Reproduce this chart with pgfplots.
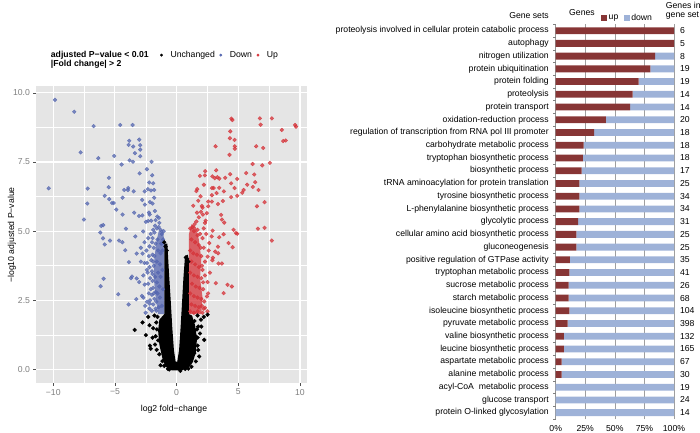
\documentclass[border=0pt]{standalone}
\usepackage{fontspec}
\setmainfont{Liberation Sans}
\usepackage{pgfplots}
\pgfplotsset{compat=1.18}
\definecolor{ggbg}{RGB}{229,229,229}
\definecolor{tlc}{RGB}{127,127,127}
\definecolor{tickc}{RGB}{80,80,80}
\definecolor{bluec}{RGB}{84,102,176}
\definecolor{redc}{RGB}{214,50,56}
\definecolor{upc}{RGB}{135,53,53}
\definecolor{downc}{RGB}{158,178,216}
\newcommand\fs{\fontsize{8.7}{10}\selectfont}
\begin{document}
\begin{tikzpicture}
\useasboundingbox (0,0) rectangle (700bp,433bp);

% ---------- volcano plot ----------
\begin{axis}[
  at={(36bp,50bp)}, anchor=south west, scale only axis,
  width=271bp, height=297bp,
  xmin=-11.4, xmax=10.57, ymin=-0.49, ymax=10.25,
  axis background/.style={fill=ggbg},
  axis line style={draw=none},
  xtick={-10,-5,0,5,10}, xticklabels={−10,−5,0,5,10},
  ytick={0,2.5,5,7.5,10}, yticklabels={0.0,2.5,5.0,7.5,10.0},
  minor xtick={-7.5,-2.5,2.5,7.5}, minor ytick={1.25,3.75,6.25,8.75},
  grid=both,
  major grid style={white, line width=1.1bp},
  minor grid style={white, line width=0.5bp},
  tick align=outside, major tick length=2.5bp, minor tick length=0pt,
  tick style={color=tickc, line width=0.6bp},
  xtick pos=lower, ytick pos=left,
  ticklabel style={font=\fs, text=tlc},
  legend style={at={(axis description cs:0.455,1.104)}, anchor=west,
    draw=none, fill=none, font=\fs, inner sep=0pt,
    nodes={inner xsep=1pt},
    /tikz/every even column/.append style={column sep=3bp}},
  legend columns=-1,
  legend image code/.code={\path[draw=none] (0bp,0bp) rectangle (10bp,0.1bp);
    \draw[#1] plot coordinates {(2bp,0bp)};},
]
\addlegendimage{only marks, mark=*, mark size=1.2bp, color=black}
\addlegendentry{Unchanged}
\addlegendimage{only marks, mark=*, mark size=1.2bp, color=bluec}
\addlegendentry{Down}
\addlegendimage{only marks, mark=*, mark size=1.2bp, color=redc}
\addlegendentry{Up}

% dense core of the down-regulated genes
\addplot[forget plot, fill=bluec, draw=none, fill opacity=0.75] coordinates {
 (-1.0,2.0) (-1.5,2.0) (-1.7,2.6) (-1.85,3.3) (-1.8,4.0) (-1.65,4.6)
 (-1.45,5.0) (-1.1,5.05) (-1.0,4.6)} -- cycle;
\addplot[forget plot, only marks, mark=*, mark size=1.9bp,
  color=bluec, opacity=0.75] coordinates {
 (-9.86,9.75) (-8.30,9.32) (-6.73,8.80) (-4.57,8.84) (-3.57,8.84) (-3.84,8.27)
 (-3.03,8.31) (-3.89,8.12) (-3.52,8.06) (-2.95,8.11) (-2.95,7.95) (-3.38,7.82)
 (-2.95,7.71) (-7.78,7.85) (-6.35,7.64) (-5.06,7.72) (-4.46,7.41) (-3.81,7.56)
 (-3.54,7.51) (-2.03,7.51) (-2.41,7.24) (-3.00,7.09) (-1.98,7.02) (-5.49,6.93)
 (-10.37,6.55) (-7.21,6.54) (-5.51,6.59) (-4.25,6.49) (-3.92,6.56) (-3.95,6.49)
 (-3.48,6.44) (-2.59,6.44) (-2.33,6.52) (-2.22,6.76) (-1.90,6.73) (-1.82,6.49)
 (-2.08,6.47) (-5.83,6.28) (-5.46,6.16) (-5.24,6.02) (-5.10,6.02) (-4.38,6.21)
 (-2.79,6.13) (-2.57,5.96) (-2.16,6.05) (-1.95,6.00) (-1.82,6.21) (-7.24,6.00)
 (-4.89,5.78) (-3.44,5.67) (-4.38,5.60) (-3.05,5.55) (-2.78,5.57) (-2.24,5.67)
 (-2.18,5.60) (-1.76,5.73) (-1.57,5.53) (-1.44,5.48) (-2.49,5.34) (-2.30,5.37)
 (-2.06,5.38) (-7.51,5.42) (-6.11,5.19) (-5.95,5.22) (-6.19,4.95) (-4.11,5.09)
 (-2.71,4.99) (-5.97,4.74) (-5.83,4.52) (-5.40,4.66) (-4.67,4.66) (-4.40,4.60)
 (-4.16,4.31) (-3.35,4.81) (-3.24,4.19) (-3.87,3.88) (-2.76,4.19) (-3.62,3.36)
 (-3.70,3.30) (-3.24,3.29) (-5.92,3.28) (-6.16,3.01) (-4.73,2.72) (-3.89,2.35)
 (-3.27,2.54) (-2.81,2.66) (-2.70,2.60) (-3.03,3.16) (-2.59,3.07) (-2.41,3.60)
 (-2.35,3.50) (-2.51,2.05) (-2.19,2.38) (-2.0,2.12) (-1.65,2.12)
 (-2.3,4.75) (-2.1,4.9) (-1.9,5.05) (-1.75,5.2) (-1.6,5.1) (-1.45,5.15)
 (-1.3,5.05) (-1.2,4.9) (-2.2,4.45) (-2.0,4.6) (-1.85,4.4) (-1.7,4.55)
 (-2.45,4.3) (-2.25,4.1) (-2.05,3.95) (-1.95,4.15) (-2.6,3.85) (-2.4,3.85)
 (-2.2,3.7) (-2.0,3.55) (-1.85,3.75) (-2.15,3.3) (-1.95,3.2) (-1.75,3.35)
 (-2.3,3.1) (-2.1,2.9) (-1.9,2.95) (-1.7,2.8) (-2.25,2.75) (-2.0,2.7)
 (-1.8,2.55) (-2.4,2.45) (-2.15,2.5) (-1.9,2.35) (-1.7,2.2) (-2.2,2.2)
 (-1.45,2.25) (-1.35,2.6) (-1.55,2.75) (-1.4,3.0) (-1.6,3.15) (-1.3,3.35)
 (-1.5,3.5) (-1.35,3.8) (-1.6,3.9) (-1.3,4.2) (-1.5,4.3) (-1.25,4.55)
 (-1.55,4.7) (-1.15,4.3) (-1.15,3.6) (-1.1,2.9) (-1.2,2.3) (-1.1,4.7)
 (-1.05,5.0) (-1.4,5.3) (-1.7,5.4) (-2.6,4.6) (-2.9,4.4) (-2.9,3.9)
 (-2.7,3.4) (-2.55,2.3) (-1.8,4.95) (-1.95,4.75) (-1.8,4.1) (-1.95,3.45)
 (-1.85,2.75) (-1.65,2.45) (-1.9,3.9)};

% dense core of the up-regulated genes
\addplot[forget plot, fill=redc, draw=none, fill opacity=0.75] coordinates {
 (1.0,2.0) (2.0,2.0) (2.1,2.6) (1.9,3.3) (2.0,4.0) (1.8,4.7)
 (1.55,5.15) (1.2,5.25) (1.0,4.9)} -- cycle;
\addplot[forget plot, only marks, mark=*, mark size=1.9bp,
  color=redc, opacity=0.75] coordinates {
 (4.44,9.07) (4.52,9.02) (6.75,9.08) (7.72,9.08) (6.81,8.85) (9.61,8.84)
 (9.68,8.78) (4.35,8.61) (4.32,8.36) (4.70,8.30) (8.53,8.66) (8.64,8.26)
 (8.85,8.28) (3.16,8.07) (4.72,7.98) (4.72,8.07) (4.29,7.76) (6.45,8.07)
 (7.02,8.01) (6.16,7.43) (6.94,7.38) (7.56,7.47) (2.32,7.17) (3.21,7.20)
 (1.89,7.00) (2.29,7.02) (2.90,6.98) (3.09,6.92) (3.30,6.95) (3.46,6.90)
 (3.94,6.93) (4.34,7.06) (4.91,6.89) (5.64,7.10) (6.29,7.05) (2.21,6.68)
 (1.67,6.52) (1.60,6.45) (2.86,6.56) (3.0,6.56) (3.45,6.57) (4.42,6.73)
 (4.70,6.56) (5.72,6.68) (6.37,6.77) (6.18,6.60) (6.64,6.49) (5.43,6.49)
 (1.94,6.26) (2.86,6.30) (3.24,6.38) (3.83,6.44) (5.32,6.39) (4.42,6.23)
 (4.91,6.28) (1.35,5.92) (2.05,5.91) (2.1,5.85) (2.56,6.07) (2.86,6.07)
 (3.35,5.98) (3.75,6.09) (6.51,5.90) (7.13,6.05) (1.65,5.67) (1.97,5.70)
 (2.13,5.60) (2.56,5.90) (3.61,5.59) (3.67,5.42) (3.86,5.31) (2.35,5.38)
 (2.30,5.30) (1.6,5.35) (1.45,5.25) (1.3,5.15) (2.92,5.02) (3.81,4.89)
 (4.62,5.05) (4.91,4.91) (6.59,5.09) (7.13,5.12) (7.72,4.66) (4.81,4.93)
 (4.21,4.57) (4.54,4.42) (3.45,4.78) (2.84,4.81) (3.35,4.44) (3.13,4.26)
 (3.37,4.20) (3.40,3.83) (3.67,3.83) (2.94,4.04) (2.90,3.95) (2.65,4.57)
 (2.51,4.08) (4.13,3.06) (4.48,3.00) (3.81,2.76) (3.18,3.12) (2.51,3.16)
 (2.46,2.64) (2.55,2.75) (2.24,2.46) (2.30,2.23) (2.5,2.1) (2.1,2.05)
 (1.1,5.1) (1.4,5.0) (1.7,5.05) (1.9,4.9) (2.1,4.75) (1.2,4.7)
 (1.5,4.6) (1.8,4.5) (2.2,4.4) (1.1,4.3) (1.35,4.2) (1.65,4.15)
 (2.0,4.1) (2.3,3.9) (1.2,3.9) (1.5,3.8) (1.8,3.7) (2.1,3.6)
 (1.1,3.5) (1.4,3.4) (1.7,3.35) (2.0,3.3) (2.3,3.4) (1.25,3.1)
 (1.55,3.0) (1.85,2.95) (2.15,2.9) (1.1,2.75) (1.4,2.65) (1.7,2.6)
 (2.0,2.55) (1.2,2.35) (1.5,2.3) (1.8,2.25) (2.05,2.3) (1.1,2.1)
 (1.4,2.05) (1.7,2.1) (2.7,3.5) (2.6,4.3) (2.4,4.9) (2.2,5.1)
 (1.8,5.5) (2.45,5.65) (1.75,6.1) (2.05,3.75) (2.15,3.15) (2.2,2.2)
 (1.95,4.4) (1.7,4.85)};

% unchanged genes: dense V and scattered points
\addplot[forget plot, fill=black, draw=none] coordinates {
 (-1.0,4.55) (-0.75,4.55) (-0.62,3.5) (-0.48,2.5) (-0.35,1.5) (-0.22,0.7)
 (-0.08,0.28) (0.05,0.28) (0.2,0.7) (0.32,1.5) (0.45,2.5) (0.55,3.3)
 (0.68,4.1) (0.9,4.15) (1.0,3.9) (1.0,2.0) (1.25,1.95) (1.5,1.6)
 (1.65,1.1) (1.55,0.6) (1.3,0.25) (0.9,0.05) (0.4,-0.03) (-0.4,-0.03)
 (-0.9,0.1) (-1.15,0.4) (-1.4,0.9) (-1.5,1.4) (-1.4,1.8) (-1.0,2.0)} -- cycle;
\addplot[forget plot, only marks, mark=*, mark size=1.9bp,
  color=black] coordinates {
 (-3.40,1.43) (-2.76,1.70) (-2.49,1.24) (-2.16,0.86) (-2.10,0.75) (-1.90,1.49)
 (-1.62,0.71) (-1.0,0.13) (2.51,1.98) (2.24,1.07) (1.70,0.86) (1.83,0.47)
 (1.56,0.29) (1.97,1.80) (1.56,1.19) (1.43,0.59) (-1.0,4.6) (-0.9,4.45)
 (-0.8,4.3) (0.75,4.05) (0.85,4.0) (0.95,3.9) (-2.3,1.9) (-2.2,1.6)
 (-1.95,1.15) (-1.75,0.9) (-1.3,0.15) (-0.6,0.0) (0.7,0.02) (1.2,0.1)
 (2.0,1.55) (2.2,1.9) (1.9,1.3) (1.75,0.7) (-1.8,1.95) (-1.65,1.7)
 (-1.7,1.2) (-1.4,0.55) (1.45,1.75) (1.65,1.45) (-1.15,0.3) (0.3,-0.05)
 (-1.55,1.9) (-1.6,1.45) (-1.5,1.05) (1.7,1.95) (1.75,1.55) (1.7,1.15)
 (-0.7,0.02) (0.95,0.03)};
\end{axis}

\node[font=\fs, align=left, anchor=west, inner sep=0pt] at (50.7bp,373bp)
  {\bfseries adjusted P−value < 0.01\\[-0.5bp]\bfseries |Fold change| > 2};
\node[font=\fs] at (174bp,24bp) {log2 fold−change};
\node[font=\fs, rotate=90] at (12bp,198bp) {−log10 adjusted P−value};

% ---------- gene set bars ----------
\begin{axis}[
  at={(555.7bp,14bp)}, anchor=south west, scale only axis,
  width=118.3bp, height=394.7bp,
  xbar stacked, bar width=6.8bp,
  xmin=0, xmax=100, ymin=-0.5, ymax=30.5,
  axis line style={draw=none},
  xtick={0,25,50,75,100}, xticklabels={0\%,25\%,50\%,75\%,100\%},
  xmajorgrids, major grid style={color=gray!75, line width=0.6bp},
  xtick style={draw=none},
  ytick={0,...,30},
  yticklabels={protein O-linked glycosylation, glucose transport,
    acyl-CoA\ \ metabolic process, alanine metabolic process,
    aspartate metabolic process, leucine biosynthetic process,
    valine biosynthetic process, pyruvate metabolic process,
    isoleucine biosynthetic process, starch metabolic process,
    sucrose metabolic process, tryptophan metabolic process,
    positive regulation of GTPase activity, gluconeogenesis,
    cellular amino acid biosynthetic process, glycolytic process,
    L-phenylalanine biosynthetic process, tyrosine biosynthetic process,
    tRNA aminoacylation for protein translation, biosynthetic process,
    tryptophan biosynthetic process, carbohydrate metabolic process,
    regulation of transcription from RNA pol III promoter,
    oxidation-reduction process, protein transport, proteolysis,
    protein folding, protein ubiquitination, nitrogen utilization,
    autophagy, proteolysis involved in cellular protein catabolic process},
  major tick length=0pt,
  minor ytick={-0.5,0.5,...,30.5}, minor tick length=2.5bp,
  tick align=outside, ytick pos=left,
  minor tick style={color=gray, line width=0.5bp},
  yticklabel style={font=\fs, anchor=east, xshift=-3.5bp},
  xticklabel style={font=\fs, yshift=-2.5bp},
  legend style={at={(axis description cs:0.383,1.0165)}, anchor=west,
    draw=none, fill=none, font=\fs, inner sep=0pt,
    nodes={inner xsep=1.5pt},
    /tikz/every even column/.append style={column sep=4bp}},
  legend columns=-1,
  legend image code/.code={\fill[#1] (0bp,-3bp) rectangle (6bp,3bp);},
]
\addlegendimage{fill=upc, draw=none}
\addlegendentry{up}
\addlegendimage{fill=downc, draw=none}
\addlegendentry{down}
\addplot[forget plot, fill=upc, draw=none] coordinates {
 (100,30) (100,29) (84,28) (80,27) (70,26) (65,25) (63,24) (42.5,23)
 (32.5,22) (23.5,21) (23,20) (22,19) (20,18) (20,17) (20,16) (19,15)
 (17.5,14) (17.5,13) (12,12) (11.5,11) (11,10) (11,9) (11.5,8) (10,7)
 (7,6) (7,5) (5,4) (5,3) (0,2) (0,1) (0,0)};
\addplot[forget plot, fill=downc, draw=none] coordinates {
 (0,30) (0,29) (16,28) (20,27) (30,26) (35,25) (37,24) (57.5,23)
 (67.5,22) (76.5,21) (77,20) (78,19) (80,18) (80,17) (80,16) (81,15)
 (82.5,14) (82.5,13) (88,12) (88.5,11) (89,10) (89,9) (88.5,8) (90,7)
 (93,6) (93,5) (95,4) (95,3) (100,2) (100,1) (100,0)};
\draw[gray, line width=0.6bp] (axis cs:0,-0.5) -- (axis cs:0,30.5);
\end{axis}

% counts of genes in each set
\begin{axis}[
  at={(555.7bp,14bp)}, anchor=south west, scale only axis,
  width=118.3bp, height=394.7bp,
  xmin=0, xmax=100, ymin=-0.5, ymax=30.5,
  axis line style={draw=none}, xtick=\empty,
  ytick={0,...,30},
  yticklabels={14,24,19,30,67,165,132,398,104,68,26,41,35,25,25,31,34,34,25,17,18,18,18,20,14,14,19,19,8,5,6},
  yticklabel pos=right, major tick length=0pt,
  yticklabel style={font=\fs, anchor=west, xshift=2.5bp},
]
\end{axis}

\node[font=\fs, anchor=east, inner sep=0pt] at (549bp,417bp) {Gene sets};
\node[font=\fs, anchor=west, inner sep=0pt] at (569bp,420.5bp) {Genes};
\node[font=\fs, anchor=west, inner sep=0pt] at (665.7bp,428bp) {Genes in};
\node[font=\fs, anchor=west, inner sep=0pt] at (665.7bp,417bp) {gene set};
\end{tikzpicture}
\end{document}
